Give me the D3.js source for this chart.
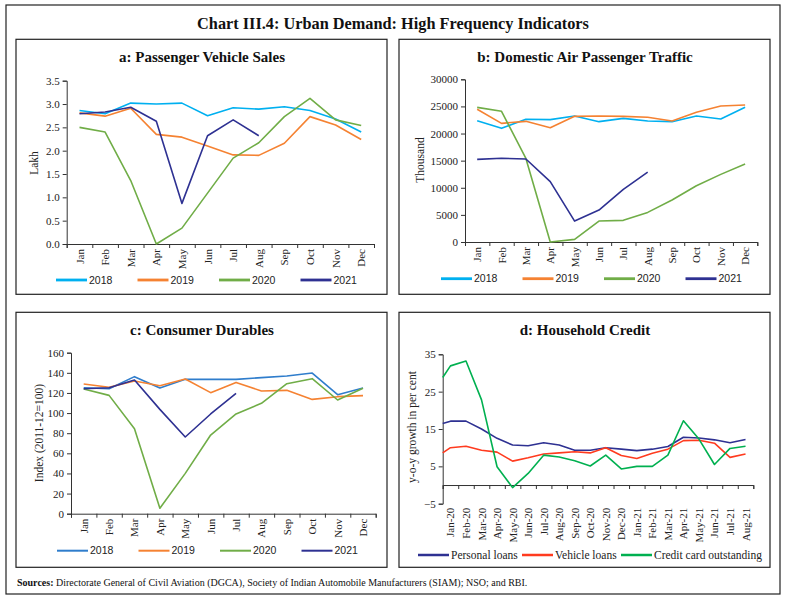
<!DOCTYPE html>
<html>
<head>
<meta charset="utf-8">
<script src="https://cdn.jsdelivr.net/npm/d3@7"></script>
<style>
  body { margin: 0; background: #fff; }
  svg { font-family: "Liberation Serif", "DejaVu Serif", serif; }
</style>
</head>
<body>
<div id="chart"></div>
<script>
// ---- data ----
var months = ["Jan","Feb","Mar","Apr","May","Jun","Jul","Aug","Sep","Oct","Nov","Dec"];
var years = ["2018","2019","2020","2021"];

// a: passenger vehicle sales (lakh)
var pv2018 = [2.86, 2.79, 3.02, 3.00, 3.02, 2.75, 2.92, 2.89, 2.94, 2.86, 2.68, 2.40];
var pv2019 = [2.81, 2.74, 2.91, 2.35, 2.29, 2.10, 1.91, 1.90, 2.16, 2.73, 2.55, 2.24];
var pv2020 = [2.50, 2.40, 1.36, 0.00, 0.34, 1.09, 1.84, 2.17, 2.73, 3.12, 2.66, 2.54];
var pv2021 = [2.79, 2.83, 2.93, 2.63, 0.87, 2.32, 2.66, 2.32];

// b: domestic air passenger traffic (thousand)
var air2018 = [22370, 20960, 22620, 22560, 23240, 22190, 22800, 22310, 22190, 23240, 22680, 24830];
var air2019 = [24470, 21880, 22250, 21080, 23170, 23240, 23170, 22990, 22310, 23910, 25080, 25270];
var air2020 = [24830, 24100, 15400, 0, 490, 3860, 3990, 5460, 7740, 10380, 12470, 14380];
var air2021 = [15240, 15430, 15300, 11120, 3860, 5890, 9700, 12900];

// c: consumer durables index (2011-12=100)
var cd2018 = [125.2, 124.2, 136.2, 124.9, 133.5, 133.5, 133.5, 135.2, 136.8, 139.8, 118.3, 124.9];
var cd2019 = [128.9, 125.6, 131.9, 127.2, 133.8, 120.3, 130.5, 121.9, 122.6, 113.6, 116.3, 117.3];
var cd2020 = [123.9, 117.6, 84.5, 5.4, 40.1, 78.2, 99.1, 109.7, 129.2, 134.2, 113.0, 124.6];
var cd2021 = [124.2, 125.2, 132.8, 103.7, 76.2, 99.1, 119.6];

// d: household credit, y-o-y growth (per cent)
var creditMonths = ["Jan-20","Feb-20","Mar-20","Apr-20","May-20","Jun-20","Jul-20","Aug-20","Sep-20","Oct-20",
                    "Nov-20","Dec-20","Jan-21","Feb-21","Mar-21","Apr-21","May-21","Jun-21","Jul-21","Aug-21"];
// first value of each series sits on the left edge of the axis, the rest one per month
var personalLoans = [16.5, 17.1, 17.1, 15.0, 12.5, 10.7, 10.5, 11.3, 10.7, 9.3, 9.3, 10.0, 9.6, 9.2, 9.6, 10.3, 12.8, 12.6, 12.1, 11.3, 12.2];
var vehicleLoans  = [8.6, 10.0, 10.4, 9.3, 8.8, 6.4, 7.3, 8.3, 8.6, 8.9, 8.6, 10.0, 7.9, 7.1, 8.5, 9.6, 11.9, 12.0, 11.2, 7.4, 8.3];
var creditCard    = [28.8, 31.9, 33.2, 22.8, 4.9, -0.7, 3.1, 8.0, 7.5, 6.5, 5.1, 8.0, 4.3, 5.0, 5.0, 8.0, 17.2, 12.3, 5.5, 9.8, 10.4];
var creditNames = ["Personal loans", "Vehicle loans", "Credit card outstanding"];

var yearColors = ["#00b0f0", "#f58232", "#70ad47", "#2e3192"];
var yearColorsC = ["#2f7dcc", "#f58232", "#70ad47", "#2e3192"];
var creditColors = ["#2e3192", "#ff3b1f", "#00b050"];

var W = 785, H = 600;
var svg = d3.select("#chart").append("svg").attr("width", W).attr("height", H);

// outer frame + main title
svg.append("rect").attr("x", 6).attr("y", 5).attr("width", 774).attr("height", 589)
  .attr("fill", "none").attr("stroke", "#222").attr("stroke-width", 1.2);
svg.append("text").attr("x", 393).attr("y", 28.5).attr("text-anchor", "middle")
  .style("font-size", "16.3px").style("font-weight", "bold").attr("fill", "#111")
  .text("Chart III.4: Urban Demand: High Frequency Indicators");

function panelBox(x, y, title) {
  svg.append("rect").attr("x", x).attr("y", y).attr("width", 371).attr("height", 255)
    .attr("fill", "none").attr("stroke", "#222").attr("stroke-width", 1.2);
  svg.append("text").attr("x", x + 186).attr("y", y + 23).attr("text-anchor", "middle")
    .style("font-size", "15px").style("font-weight", "bold").attr("fill", "#111")
    .text(title);
}

function yTitle(x, y, txt) {
  svg.append("text").attr("transform", "translate(" + x + "," + y + ")rotate(-90)")
    .attr("text-anchor", "middle").style("font-size", "11.5px").attr("fill", "#222").text(txt);
}

function styleAxis(g) {
  g.select(".domain").attr("stroke", "#333");
  g.selectAll(".tick line").attr("stroke", "#333");
  g.selectAll(".tick text").attr("fill", "#222")
    .style("font-family", "Liberation Serif, serif").style("font-size", "11px");
}

// monthly year-on-year panels (a, b, c)
function yearPanel(p) {
  panelBox(p.bx, p.by, p.title);
  var n = months.length;
  var xe = d3.scaleLinear().domain([0, n]).range([p.x0, p.x1]);
  var x = function(i) { return xe(i + 0.5); };
  var y = d3.scaleLinear().domain(p.dom).range([p.y1, p.y0]);

  var gy = svg.append("g").attr("transform", "translate(" + p.x0 + ",0)")
    .call(d3.axisLeft(y).tickValues(d3.range(p.dom[0], p.dom[1] + p.step / 2, p.step))
      .tickSize(4).tickPadding(3).tickFormat(p.fmt));
  styleAxis(gy);

  var gx = svg.append("g").attr("transform", "translate(0," + p.y1 + ")")
    .call(d3.axisBottom(xe).tickValues(d3.range(0, n + 1)).tickSize(4).tickFormat(""));
  styleAxis(gx);

  svg.append("g").selectAll("text").data(months).enter().append("text")
    .attr("transform", function(d, i) { return "translate(" + (x(i) + 4) + "," + (p.y1 + 5) + ")rotate(-90)"; })
    .attr("text-anchor", "end").style("font-size", "11px").attr("fill", "#222")
    .text(function(d) { return d; });

  var line = d3.line().x(function(d, i) { return x(i); }).y(function(d) { return y(d); });
  p.series.forEach(function(s, k) {
    svg.append("path").datum(s).attr("d", line).attr("fill", "none")
      .attr("stroke", p.colors[k]).attr("stroke-width", 1.6).attr("stroke-linejoin", "round");
  });

  yTitle(p.ytx, p.ty, p.ytitle);

  var leg = svg.append("g").attr("transform", "translate(" + p.lx + "," + p.ly + ")");
  years.forEach(function(yr, k) {
    var g = leg.append("g").attr("transform", "translate(" + (k * 81.5) + ",0)");
    g.append("line").attr("x1", 0).attr("x2", 31).attr("y1", 0).attr("y2", 0)
      .attr("stroke", p.colors[k]).attr("stroke-width", p.legW);
    g.append("text").attr("x", 33).attr("y", 3.5).style("font-family", "Liberation Sans, sans-serif")
      .style("font-size", "10.5px").attr("fill", "#222").text(yr);
  });
}

yearPanel({ bx: 16, by: 39.3, title: "a: Passenger Vehicle Sales",
  x0: 66.7, x1: 374, y0: 80.7, y1: 244, dom: [0, 3.5], step: 0.5, fmt: d3.format(".1f"),
  series: [pv2018, pv2019, pv2020, pv2021], colors: yearColors, legW: 2.8,
  ytitle: "Lakh", ytx: 38, ty: 163, lx: 56, ly: 280 });

yearPanel({ bx: 399, by: 39.3, title: "b: Domestic Air Passenger Traffic",
  x0: 465, x1: 757.3, y0: 79.3, y1: 242, dom: [0, 30000], step: 5000, fmt: d3.format("d"),
  series: [air2018, air2019, air2020, air2021], colors: yearColors, legW: 2.8,
  ytitle: "Thousand", ytx: 424, ty: 160, lx: 441, ly: 278.7 });

yearPanel({ bx: 16, by: 312.3, title: "c: Consumer Durables",
  x0: 71, x1: 375.7, y0: 352.7, y1: 513.7, dom: [0, 160], step: 20, fmt: d3.format("d"),
  series: [cd2018, cd2019, cd2020, cd2021], colors: yearColorsC, legW: 2,
  ytitle: "Index (2011-12=100)", ytx: 43, ty: 433, lx: 57, ly: 550.7 });

// d: household credit
(function() {
  panelBox(399, 312.3, "d: Household Credit");
  var x0 = 442.7, x1 = 753.3, y0 = 354.3, y1 = 503.7;
  var n = creditMonths.length;
  var xe = d3.scaleLinear().domain([0, n]).range([x0, x1]);
  var y = d3.scaleLinear().domain([-5, 35]).range([y1, y0]);

  var gy = svg.append("g").attr("transform", "translate(" + x0 + ",0)")
    .call(d3.axisLeft(y).tickValues([-5, 5, 15, 25, 35]).tickSize(4).tickPadding(3));
  styleAxis(gy);

  var gx = svg.append("g").attr("transform", "translate(0," + y(0) + ")")
    .call(d3.axisBottom(xe).tickValues(d3.range(0, n + 1)).tickSize(4).tickFormat(""));
  styleAxis(gx);

  svg.append("g").selectAll("text").data(creditMonths).enter().append("text")
    .attr("transform", function(d, i) { return "translate(" + (xe(i + 0.5) + 4) + "," + (y1 + 4) + ")rotate(-90)"; })
    .attr("text-anchor", "end").style("font-size", "11px").attr("fill", "#222")
    .text(function(d) { return d; });

  var pos = function(i) { return i === 0 ? 0 : i - 0.5; };
  var line = d3.line().x(function(d, i) { return xe(pos(i)); }).y(function(d) { return y(d); });
  [personalLoans, vehicleLoans, creditCard].forEach(function(s, k) {
    svg.append("path").datum(s).attr("d", line).attr("fill", "none")
      .attr("stroke", creditColors[k]).attr("stroke-width", 1.6).attr("stroke-linejoin", "round");
  });

  yTitle(416, 427, "y-o-y growth in per cent");

  var legX = [418, 522, 621];
  creditNames.forEach(function(nm, k) {
    var g = svg.append("g").attr("transform", "translate(" + legX[k] + ",555)");
    g.append("line").attr("x1", 0).attr("x2", 31).attr("y1", 0).attr("y2", 0)
      .attr("stroke", creditColors[k]).attr("stroke-width", 2.5);
    g.append("text").attr("x", 33).attr("y", 4).style("font-family", "Liberation Serif, serif")
      .style("font-size", "11.5px").attr("fill", "#222").text(nm);
  });
})();

// sources note
var src = svg.append("text").attr("x", 17).attr("y", 586).style("font-size", "10px").attr("fill", "#111");
src.append("tspan").style("font-weight", "bold").text("Sources: ");
src.append("tspan").text("Directorate General of Civil Aviation (DGCA), Society of Indian Automobile Manufacturers (SIAM); NSO; and RBI.");
</script>
</body>
</html>
